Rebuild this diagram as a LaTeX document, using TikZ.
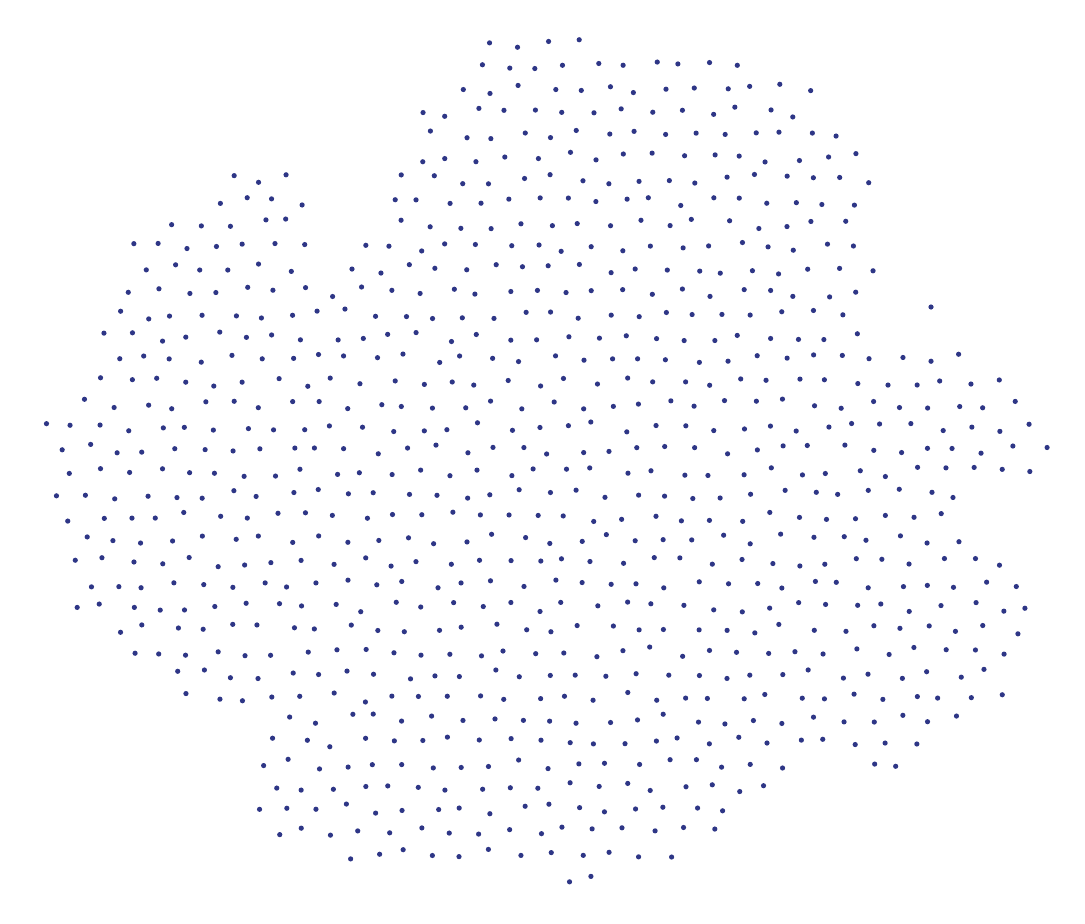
\documentclass[tikz,border=0pt]{standalone}
\definecolor{dotc}{RGB}{46,54,134}
\tikzset{pt/.style={fill=dotc}}
\begin{document}
\begin{tikzpicture}[x=1pt,y=-1pt]
\useasboundingbox (0,0) rectangle (1085,924);
\pgfmathsetseed{4321}
\foreach \yy/\xa/\xb in {
 44/495/598, 67/465/760, 89/455/805, 112/419/810, 134/425/836, 157/420/867,
 179/236/300, 179/408/880, 202/220/325, 202/386/875, 224/157/301, 224/400/855,
 247/129/300, 247/365/850, 269/126/300, 269/348/877, 292/128/302, 292/340/862,
 314/115/850, 337/104/855, 359/105/957, 382/96/998, 404/84/1024, 427/50/1034,
 449/55/1036, 472/62/1023, 494/65/975, 517/72/958, 539/73/955, 562/75/1009,
 584/80/1027, 607/80/1026, 629/96/1033, 652/125/1019, 674/160/1002, 697/186/996,
 719/275/962, 742/268/925, 764/247/787, 764/857/906, 787/270/785, 809/268/745,
 832/275/710, 854/335/680, 877/565/615}
{
  \pgfmathtruncatemacro\rowk{round((\yy-44)/22.5)}
  \pgfmathsetmacro\off{mod(\rowk,2)*14.5}
  \pgfmathtruncatemacro\ia{ceil((\xa-\off-8)/29)}
  \pgfmathtruncatemacro\ib{floor((\xb-\off+8)/29)}
  \ifnum\ib<\ia\relax\else
  \foreach \ii in {\ia,...,\ib}{
    \pgfmathsetmacro\px{\off+29*\ii+5*rand}
    \pgfmathsetmacro\py{\yy+5*rand}
    \fill[pt] (\px,\py) circle[radius=2.6];
  }
  \fi
}
\fill[pt] (931,307) circle[radius=2.6];
\end{tikzpicture}
\end{document}
